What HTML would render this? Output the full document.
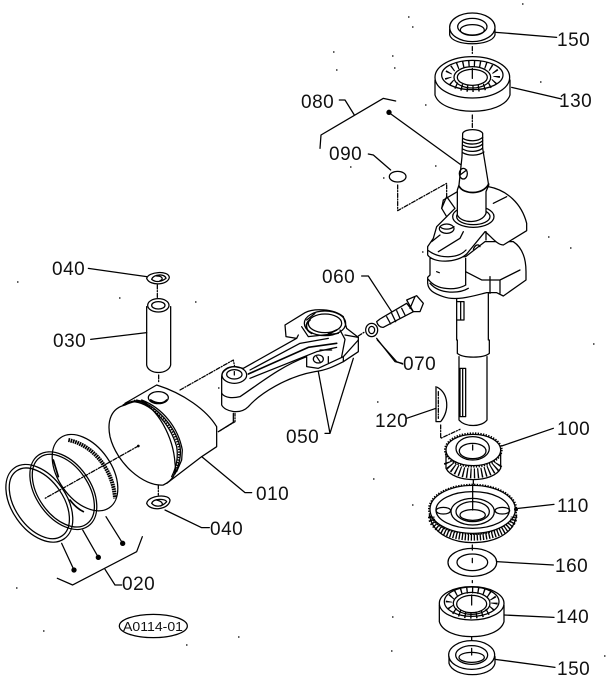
<!DOCTYPE html>
<html>
<head>
<meta charset="utf-8">
<style>
html,body{margin:0;padding:0;background:#fff;width:608px;height:685px;overflow:hidden}
svg{display:block}
text{font-family:"Liberation Sans",sans-serif;font-size:19px;fill:#111;letter-spacing:.5px}
.g{fill:none;stroke:#000;stroke-width:3.8;stroke-linejoin:round;stroke-linecap:round}
.w{fill:#fff}
.d{stroke-dasharray:12 5 3 5}
.t{stroke-width:6;stroke-dasharray:4 4;stroke-linecap:butt}
.r{stroke-width:20;stroke-dasharray:4 13;stroke-linecap:butt}
.h{stroke-width:5}
.b{fill:#000;stroke:none}
</style>
</head>
<body>
<svg width="608" height="685" viewBox="0 0 608 685" xmlns="http://www.w3.org/2000/svg">
<rect width="608" height="685" fill="#fff"/>

<!-- crank + top parts -->
<g class="g" transform="translate(300,0) scale(.33333)">
  <path d="M588,97 L770,112 M635,262 L785,297"/>
  <ellipse cx="517" cy="82" rx="68" ry="43"/>
  <path d="M449,88 V105 C458,140 575,140 585,105 V88"/>
  <ellipse cx="517" cy="80" rx="44" ry="25"/>
  <ellipse cx="517" cy="90" rx="36" ry="16"/>
  <path class="d" d="M517,140 V165 M517,345 V382"/>
  <ellipse cx="517" cy="232" rx="112" ry="62"/>
  <path d="M405,240 V285 C425,350 610,350 630,285 V240"/>
  <ellipse cx="517" cy="225" rx="92" ry="44"/>
  <ellipse cx="517" cy="232" rx="55" ry="32"/>
  <ellipse cx="517" cy="232" rx="45" ry="24"/>
  <ellipse class="r" cx="517" cy="228" rx="73" ry="38"/>
  <path d="M517,205 V235"/>

  <path d="M118,300 H135 L163,345"/>
  <path d="M60,445 L63,405 L250,295 L287,303"/>
  <circle class="b" cx="267" cy="337" r="8"/>
  <path d="M270,340 L482,494"/>
  <path d="M205,462 L220,465 L272,510"/>
  <ellipse cx="293" cy="530" rx="25" ry="16"/>
  <path class="d" d="M293,555 V632 L440,550 V600"/>

  <!-- lower shaft stub -->
  <path d="M470,885 V1020 M565,880 V1020"/>
  <path d="M472,905 H492 V960 H472 M482,905 V960"/>

  <!-- lower web + crank pin -->
  <path class="w" d="M497,770 L555,725 L640,725 C670,745 678,780 678,815 V840 L610,888 L590,878 L560,878 C530,885 470,905 430,890 C400,880 385,870 383,850 V832 L390,825 V775 Z"/>
  <path d="M497,815 L545,840 H600 L660,810 M600,840 V880 M570,830 V880"/>
  <path d="M497,775 V855"/>
  <path d="M385,838 C410,872 470,872 497,855"/>
  <path d="M390,850 C420,885 480,880 505,865"/>
  <path d="M410,815 L418,818"/>

  <!-- upper web -->
  <path class="w" d="M565,560 C620,570 665,610 680,670 V692 L610,735 C590,735 570,705 555,695 L500,762 C470,790 400,790 383,765 V740 L400,715 L410,680 L440,650 L425,625 L430,600 L472,575 Z"/>
  <path d="M580,610 L620,590 M520,748 C525,735 535,730 540,740 M558,695 V720"/>
  <ellipse cx="440" cy="686" rx="22" ry="14"/>
  <path d="M420,680 C430,690 450,690 462,680"/>
  <path d="M395,725 L420,705 M415,755 L480,715 L490,695 M385,752 C420,778 475,775 498,750"/>
  <path d="M425,625 L440,590 L465,625 L440,650"/>

  <!-- flange and shaft upper -->
  <ellipse class="w" cx="520" cy="650" rx="62" ry="32"/>
  <ellipse cx="520" cy="650" rx="50" ry="24"/>
  <path class="w" d="M488,400 C495,385 540,385 548,400 V445 L552,470 L566,556 L558,575 V640 C545,672 485,672 472,645 V570 L477,555 L486,470 Z"/>
  <path d="M488,415 C505,425 535,425 548,412 M488,425 C505,435 535,435 548,422 M488,435 C505,445 535,445 548,432 M488,447 C505,457 535,457 548,444 M488,458 C505,468 535,468 552,456"/>
  <path class="h" d="M477,558 C490,585 550,585 566,552"/>
  <ellipse cx="490" cy="521" rx="12" ry="16"/>
  <path d="M480,525 L500,510"/>
</g>

<!-- lower stack -->
<g class="g" transform="translate(350,340) scale(.33333)">
  <path d="M82,0 L140,65 L158,72"/>
  <path d="M322,0 V40 C340,55 400,55 418,40 V0"/>
  <path d="M327,50 V240 C345,262 395,262 411,240 V50"/>
  <path d="M330,85 H347 V230 H330 Z M338,85 V230"/>
  <path d="M258,140 V245 H272 C300,210 295,160 262,142"/>
  <path d="M265,155 V235" class="d"/>
  <path d="M170,235 L258,205"/>
  <path class="d" d="M272,255 V295 L330,268"/>
  <!-- gear 100 -->
  <path d="M455,318 L610,265"/>
  <path d="M288,335 V385 C310,430 430,430 452,385 V335"/>
  <ellipse cx="370" cy="330" rx="82" ry="47" />
  <ellipse class="t" cx="370" cy="330" rx="85" ry="50"/>
  <path class="t" style="stroke-width:30;stroke-dasharray:4 7" d="M296,365 A76,42 0 0 0 446,365"/>
  <ellipse cx="368" cy="325" rx="50" ry="35"/>
  <ellipse cx="368" cy="333" rx="40" ry="23"/>
  <path d="M368,315 V330 M370,420 V432"/>
  <!-- gear 110 -->
  <path d="M505,505 L612,493"/>
  <ellipse cx="368" cy="508" rx="128" ry="72"/>
  <ellipse class="t" cx="368" cy="508" rx="131" ry="74"/>
  <path d="M238,525 C250,590 320,608 368,608 C420,608 490,590 500,525"/>
  <path class="t" style="stroke-width:20;stroke-dasharray:4 5" d="M244,530 A124,62 0 0 0 492,530"/>
  <ellipse cx="368" cy="510" rx="110" ry="55"/>
  <ellipse cx="368" cy="515" rx="65" ry="40"/>
  <ellipse cx="368" cy="515" rx="50" ry="30"/>
  <ellipse cx="368" cy="525" rx="38" ry="16"/>
  <ellipse cx="280" cy="512" rx="22" ry="10"/>
  <ellipse cx="457" cy="512" rx="22" ry="10"/>
  <path d="M368,435 V510"/>
  <circle class="b" cx="498" cy="508" r="6"/>
  <!-- washer -->
  <path d="M440,665 L610,675"/>
  <ellipse cx="367" cy="667" rx="73" ry="42"/>
  <ellipse cx="367" cy="667" rx="46" ry="25"/>
  <path d="M367,655 V668 M367,615 V630 M367,722 V728"/>
  <!-- bearing 140 -->
  <path d="M462,825 L612,832"/>
  <ellipse cx="365" cy="790" rx="97" ry="50"/>
  <path d="M268,795 V845 C285,905 445,905 462,845 V795"/>
  <ellipse cx="365" cy="785" rx="82" ry="44"/>
  <ellipse cx="365" cy="790" rx="55" ry="33"/>
  <ellipse cx="365" cy="792" rx="45" ry="26"/>
  <ellipse class="r" cx="365" cy="788" rx="68" ry="38"/>
  <path d="M365,765 V795"/>
  <!-- seal 150 -->
  <path d="M435,958 L615,982"/>
  <ellipse cx="365" cy="945" rx="69" ry="43"/>
  <path d="M297,950 V970 C310,1015 425,1015 435,970 V950"/>
  <ellipse cx="365" cy="945" rx="48" ry="28"/>
  <ellipse cx="365" cy="952" rx="38" ry="15"/>
  <path d="M365,925 V945 M365,890 V900"/>
</g>

<!-- piston, pin, rings -->
<g class="g" transform="translate(0,250) scale(.33333)">
  <path d="M265,55 L440,80"/>
  <path d="M440,85 C445,65 505,60 508,82 C505,105 450,110 440,85 Z M455,88 C460,72 495,70 498,85 C480,98 465,96 455,88 M470,78 C490,78 490,90 480,92"/>
  <path class="d" d="M472,105 V145"/>
  <ellipse cx="475" cy="166" rx="32" ry="20"/>
  <ellipse cx="475" cy="166" rx="20" ry="11"/>
  <path d="M440,170 V345 C445,375 505,375 512,345 V170"/>
  <path d="M272,268 L440,248"/>
  <path class="d" d="M476,375 V395"/>

  <path class="d" d="M540,420 L700,330 L705,355 M655,545 L705,515 V490"/>
  <!-- piston -->
  <path class="w" d="M375,460 L470,405 C550,430 620,480 650,530 V590 L605,620 L500,700 L420,640 Z"/>
  <path class="w" d="M375,465 C335,475 320,510 330,560 C350,640 430,710 490,705 C520,690 530,670 525,640 C520,560 470,470 420,455 C405,452 390,458 375,465 Z"/>
  <path class="h" d="M370,465 C395,452 420,450 440,458"/>
  <path d="M395,455 C450,455 510,520 530,590 C535,620 530,650 515,680"/>
  <path d="M410,450 C470,465 525,530 540,590 C545,620 535,650 525,672"/>
  <path class="t" d="M402,452 C460,460 518,525 536,590 C540,620 533,650 520,676"/>
  <path d="M425,450 C490,475 535,535 547,600 L545,630 L530,665"/>
  <ellipse cx="475" cy="443" rx="30" ry="18"/>
  <path class="h" d="M452,450 C470,462 490,462 500,450"/>
  <circle class="b" cx="415" cy="588" r="4"/>
  <path class="d" d="M415,588 L135,745"/>
  <path class="d" d="M475,705 V735"/>
  <path d="M605,620 L735,728 H755"/>
  <!-- lower clip -->
  <path d="M440,760 C445,735 510,730 510,752 C505,780 450,785 440,760 Z M455,760 C460,745 495,745 500,755 C485,772 465,772 455,760 M470,750 C490,755 490,765 482,768"/>
  <path d="M495,780 L605,833 H628"/>

  <!-- rings -->
  <ellipse cx="118" cy="760" rx="130" ry="82" transform="rotate(55 118 760)"/>
  <ellipse cx="118" cy="760" rx="119" ry="72" transform="rotate(55 118 760)"/>
  <ellipse cx="190" cy="722" rx="130" ry="82" transform="rotate(55 190 722)"/>
  <ellipse cx="190" cy="722" rx="122" ry="75" transform="rotate(55 190 722)"/>
  <ellipse cx="255" cy="668" rx="128" ry="80" transform="rotate(55 255 668)"/>
  <path class="t" style="stroke-width:12;stroke-dasharray:5 2" d="M205,570 C280,585 340,660 345,745"/>
  <path class="h" d="M160,630 L175,680 M210,750 C225,770 240,780 250,785"/>
  <path d="M318,800 L368,880 M248,840 L295,922 M185,880 L222,960"/>
  <circle class="b" cx="368" cy="880" r="8"/>
  <circle class="b" cx="295" cy="922" r="8"/>
  <circle class="b" cx="222" cy="960" r="8"/>
  <path d="M172,985 L218,1005 L410,905 L427,860"/>
  <path d="M315,958 L345,1005 H365"/>
  <ellipse cx="460" cy="1128" rx="102" ry="35"/>
</g>

<!-- connecting rod -->
<g class="g" transform="translate(200,260) scale(.33333)">
  <path class="w" d="M65,350 V435 C75,455 120,465 145,440 C180,400 260,350 345,335 C380,330 400,320 430,305 L475,275 V232 L440,205 L430,170 C400,145 340,145 315,158 L255,195 L258,230 L290,235 L130,325 L103,320 C80,322 65,335 65,350 Z"/>
  <path d="M65,400 C75,415 100,415 120,410 C180,370 240,320 320,290 V320 L355,325 L430,290 L475,240"/>
  <path d="M430,290 V305 M435,225 L475,232 M420,210 L435,238 L425,290"/>
  <ellipse cx="103" cy="345" rx="37" ry="25"/>
  <ellipse cx="103" cy="343" rx="23" ry="14"/>
  <path d="M103,335 V345"/>
  <path class="h" d="M145,342 L325,262 L410,250"/>
  <path d="M150,330 L300,250 L385,235 M150,355 L350,275 L410,262"/>
  <path d="M360,270 H395 M290,235 L295,225"/>
  <ellipse cx="375" cy="190" rx="62" ry="37"/>
  <ellipse cx="375" cy="190" rx="50" ry="28"/>
  <path class="h" d="M330,180 C315,190 315,210 335,220 M410,210 L385,222"/>
  <path d="M320,180 L345,160 M305,200 L325,230 L415,220"/>
  <ellipse cx="355" cy="297" rx="15" ry="12"/>
  <path d="M350,290 L360,305 M385,290 V308"/>
  <path d="M100,460 V487 L60,512"/>
  <!-- bolt -->
  <path d="M530,185 L540,177 L620,130 L640,155 L550,202 Q535,202 530,185 Z"/>
  <path d="M620,120 L650,107 L670,130 L660,155 L640,155 Z M645,110 L630,145"/>
  <path d="M560,170 L572,192 M575,160 L587,185 M590,152 L600,175 M605,145 L615,165"/>
  <path d="M485,48 H505 L575,155"/>
  <path d="M475,228 L495,215" class="d"/>
  <ellipse cx="515" cy="210" rx="18" ry="20"/>
  <ellipse cx="515" cy="210" rx="9" ry="11"/>
  <path d="M530,235 L585,305 L607,310"/>
  <path d="M355,335 L390,520 L460,295 M390,520 H375"/>
</g>

<!-- speckles -->
<path fill="none" stroke="#000" stroke-width="1.2" d="M522,4h1.5M408,17h1.5M412,27h1.5M333,52h1.5M336,70h1.5M392,56h1.5M394,68h1.5M425,105h1.5M540,82h1.5M548,237h1.5M570,248h1.5M350,167h1.5M435,166h1.5M383,178h1.5M422,252h1.5M17,282h1.5M119,298h1.5M195,302h1.5M16,588h1.5M43,631h1.5M238,637h1.5M186,645h1.5M593,344h1.5M377,402h1.5M412,505h1.5M373,479h1.5M392,617h1.5M391,651h1.5M604,656h1.5M218,388h1.5"/>

<!-- labels -->
<text x="557" y="46">150</text>
<text x="559" y="107">130</text>
<text x="301" y="108">080</text>
<text x="329" y="160">090</text>
<text x="322" y="283">060</text>
<text x="403" y="370">070</text>
<text x="375" y="427">120</text>
<text x="557" y="435">100</text>
<text x="557" y="512">110</text>
<text x="555" y="572">160</text>
<text x="556" y="623">140</text>
<text x="557" y="675">150</text>
<text x="52" y="275">040</text>
<text x="53" y="347">030</text>
<text x="256" y="500">010</text>
<text x="210" y="535">040</text>
<text x="122" y="590">020</text>
<text x="286" y="443">050</text>
<text x="123" y="631" style="font-size:13px;letter-spacing:0" textLength="60" lengthAdjust="spacingAndGlyphs">A0114-01</text>
</svg>
</body>
</html>
